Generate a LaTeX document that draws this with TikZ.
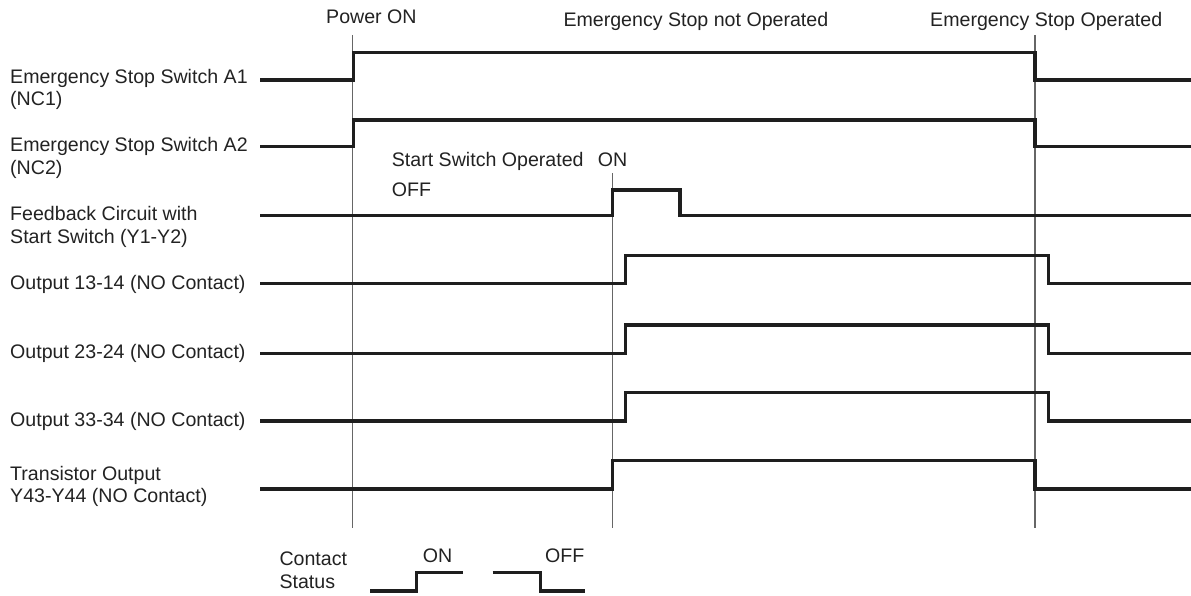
\documentclass[tikz,border=0pt]{standalone}
\usepackage{fontspec}
\setmainfont{Liberation Sans}
\definecolor{sig}{HTML}{1E1E1E}
\definecolor{txt}{HTML}{222222}
\begin{document}
\begin{tikzpicture}[x=1pt,y=-1pt,
  lbl/.style={anchor=base west,inner sep=0pt,text=txt,font=\fontsize{19.6}{23}\selectfont},
  trace/.style={draw=sig,line width=3.3pt,line join=miter},
  marker/.style={draw=black!60,line width=1.1pt}]
\useasboundingbox (0,0) rectangle (1191,596);
% event coordinates
\coordinate (p1t) at (352.7,35);  \coordinate (p1b) at (352.7,528);
\coordinate (p2t) at (612.3,173.3); \coordinate (p2b) at (612.3,528);
\coordinate (p3t) at (1035,35);   \coordinate (p3b) at (1035,528);
% vertical markers
\draw[marker] (p1t) -- (p1b);
\draw[marker] (p2t) -- (p2b);
\draw[marker] (p3t) -- (p3b);
% top labels
\node[lbl] (tPow) at (326,24) {Power ON};
\node[lbl] (tNot) at (563.3,26.7) {Emergency Stop not Operated};
\node[lbl] (tOp) at (930,26.7) {Emergency Stop Operated};
% left labels
\node[lbl] (lA1) at (10,83.3) {Emergency Stop Switch A1};
\node[lbl] (lA1b) at (10,106) {(NC1)};
\node[lbl] (lA2) at (10,151.7) {Emergency Stop Switch A2};
\node[lbl] (lA2b) at (10,174.5) {(NC2)};
\node[lbl] (lFB) at (10,221) {Feedback Circuit with};
\node[lbl] (lFBb) at (10,243.3) {Start Switch (Y1-Y2)};
\node[lbl] (lO1) at (10,289.3) {Output 13-14 (NO Contact)};
\node[lbl] (lO2) at (10,358.3) {Output 23-24 (NO Contact)};
\node[lbl] (lO3) at (10,426) {Output 33-34 (NO Contact)};
\node[lbl] (lTR) at (10,480) {Transistor Output};
\node[lbl] (lTRb) at (10,502.3) {Y43-Y44 (NO Contact)};
% inner labels
\node[lbl] (sso) at (391.7,166.7) {Start Switch Operated};
\node[lbl] (sson) at (597.7,166.7) {ON};
\node[lbl] (ssoff) at (391.7,196.7) {OFF};
% traces
\draw[trace] (260,80) -- (353.3,80) -- (353.3,52.3) -- (1035,52.3) -- (1035,80) -- (1191,80);
\draw[trace] (260,146.7) -- (353.3,146.7) -- (353.3,120) -- (1035,120) -- (1035,146.7) -- (1191,146.7);
\draw[trace] (260,215.7) -- (612.3,215.7) -- (612.3,190) -- (680,190) -- (680,215.7) -- (1191,215.7);
\draw[trace] (260,283.3) -- (625.7,283.3) -- (625.7,255.7) -- (1048.3,255.7) -- (1048.3,283.3) -- (1191,283.3);
\draw[trace] (260,353.3) -- (625.7,353.3) -- (625.7,325) -- (1048.3,325) -- (1048.3,353.3) -- (1191,353.3);
\draw[trace] (260,421) -- (625.7,421) -- (625.7,392.7) -- (1048.3,392.7) -- (1048.3,421) -- (1191,421);
\draw[trace] (260,489) -- (612.3,489) -- (612.3,460.7) -- (1035,460.7) -- (1035,489) -- (1191,489);
% legend
\node[lbl] (cs1) at (279.3,565.7) {Contact};
\node[lbl] (cs2) at (279.3,588.3) {Status};
\node[lbl] (lgOn) at (422.7,562.7) {ON};
\node[lbl] (lgOff) at (545,562.7) {OFF};
\draw[trace] (370,591) -- (416.7,591) -- (416.7,572.3) -- (462.7,572.3);
\draw[trace] (492.7,572.3) -- (540.7,572.3) -- (540.7,591) -- (585,591);
\end{tikzpicture}
\end{document}
